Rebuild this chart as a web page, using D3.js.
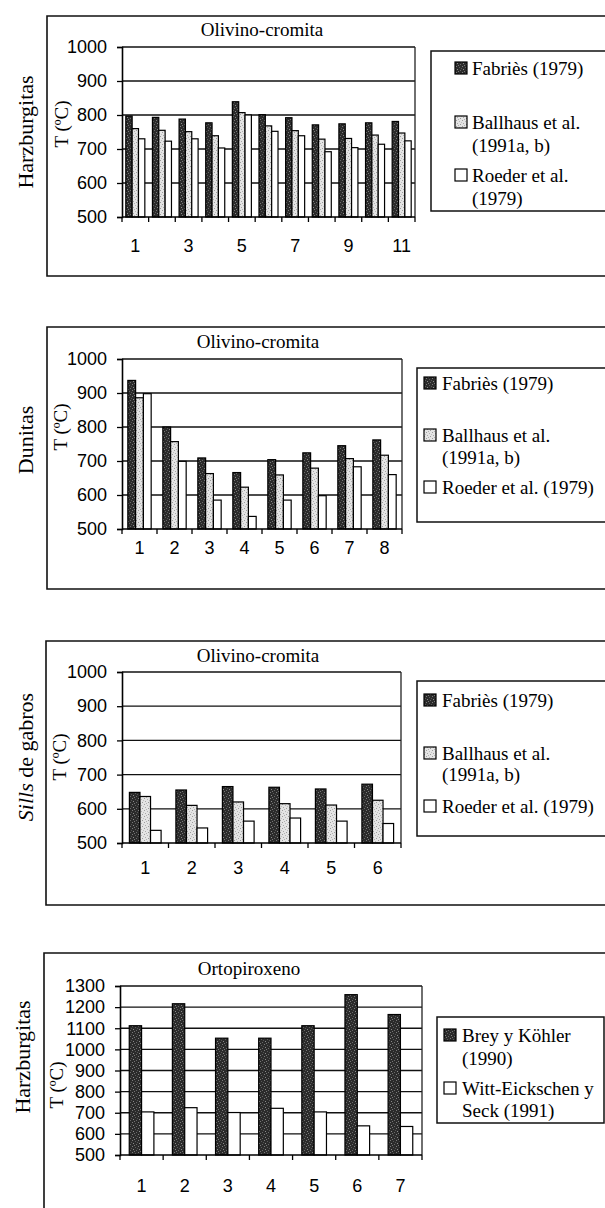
<!DOCTYPE html>
<html><head><meta charset="utf-8">
<script src="https://cdn.jsdelivr.net/npm/d3@7"></script>
<style>
html,body{margin:0;padding:0;background:#fff;}
svg{display:block;}
</style></head>
<body>
<svg id="chart" width="605" height="1208"></svg>
<script>
// ---------- DATA ----------
const hzCategories = [1,2,3,4,5,6,7,8,9,10,11];
const hzFabries   = [797,793,788,777,839,801,792,771,774,777,781];
const hzBallhaus  = [760,755,751,739,807,768,754,729,731,741,747];
const hzRoeder    = [730,723,730,703,800,752,739,692,704,714,724];
const hzTickLabels = ["1","","3","","5","","7","","9","","11"];

const duCategories = [1,2,3,4,5,6,7,8];
const duFabries   = [937,800,709,666,704,724,745,762];
const duBallhaus  = [886,757,663,623,659,679,707,717];
const duRoeder    = [898,699,585,537,585,598,683,660];

const siCategories = [1,2,3,4,5,6];
const siFabries   = [648,655,665,663,658,672];
const siBallhaus  = [636,610,620,615,611,625];
const siRoeder    = [537,544,564,573,564,557];

const opCategories = [1,2,3,4,5,6,7];
const opBrey      = [1112,1216,1053,1053,1112,1259,1165];
const opWitt      = [704,724,701,721,704,638,635];

const olivYTicks = [500,600,700,800,900,1000];
const opYTicks   = [500,600,700,800,900,1000,1100,1200,1300];

// ---------- SETUP ----------
const SERIF = "'Liberation Serif','Times New Roman',Times,serif";
const SANS  = "'Liberation Sans',Arial,Helvetica,sans-serif";
const svg = d3.select("#chart");
const defs = svg.append("defs");

function makePattern(id, base, dots){
  const p = defs.append("pattern").attr("id",id).attr("patternUnits","userSpaceOnUse")
    .attr("width",6).attr("height",6);
  p.append("rect").attr("width",6).attr("height",6).attr("fill",base);
  dots.forEach(d=>p.append("rect").attr("x",d[0]).attr("y",d[1]).attr("width",1).attr("height",1).attr("fill",d[2]));
}
makePattern("patDark","#2b2b2b",[[0,0,"#7a7a7a"],[3,1,"#5a5a5a"],[1,3,"#8a8a8a"],[4,4,"#6a6a6a"],[5,2,"#555"],[2,5,"#777"]]);
makePattern("patLight","#e4e4e4",[[0,0,"#9c9c9c"],[3,1,"#b5b5b5"],[1,3,"#a8a8a8"],[4,4,"#9a9a9a"],[5,2,"#c0c0c0"],[2,5,"#b0b0b0"]]);

const fills = {dark:"url(#patDark)", light:"url(#patLight)", white:"#fff"};

function txt(sel, family, size){
  return sel.attr("font-family",family).style("font-family",family).attr("font-size",size).attr("fill","#000");
}

function panel(cfg){
  const g = svg.append("g");
  const fr = cfg.frame;
  g.append("path")
    .attr("d", `M${fr.right},${fr.top} L${fr.left},${fr.top} L${fr.left},${fr.bottom} L${fr.right},${fr.bottom}`)
    .attr("fill","none").attr("stroke","#111").attr("stroke-width",1.6);

  const x = d3.scaleBand().domain(cfg.categories).range([cfg.L, cfg.R]).paddingInner(0).paddingOuter(0);
  const y = d3.scaleLinear().domain([cfg.ticks[0], cfg.ticks[cfg.ticks.length-1]]).range([cfg.B, cfg.T]);
  const inner = d3.scaleBand().domain(d3.range(cfg.series.length)).range([0, x.bandwidth()])
    .paddingInner(0).paddingOuter(cfg.gap/2);

  // gridlines
  g.append("g").selectAll("line").data(cfg.ticks.slice(1)).join("line")
    .attr("x1",cfg.L).attr("x2",cfg.R).attr("y1",d=>y(d)).attr("y2",d=>y(d))
    .attr("stroke","#111").attr("stroke-width",1.3);
  g.append("line").attr("x1",cfg.R).attr("x2",cfg.R).attr("y1",cfg.T).attr("y2",cfg.B)
    .attr("stroke","#222").attr("stroke-width",1.3);

  // bars
  cfg.series.forEach((s,i)=>{
    g.append("g").selectAll("rect").data(s.values).join("rect")
      .attr("x",(d,j)=>x(cfg.categories[j]) + inner(i))
      .attr("y",d=>y(d))
      .attr("width",inner.bandwidth())
      .attr("height",d=>cfg.B - y(d))
      .attr("fill",fills[s.fill]).attr("stroke","#000").attr("stroke-width",1.2);
  });

  // y axis
  const ya = g.append("g").attr("transform",`translate(${cfg.L},0)`)
    .call(d3.axisLeft(y).tickValues(cfg.ticks).tickSize(5).tickPadding(10).tickFormat(d3.format("d")));
  ya.attr("font-family",null);
  ya.select(".domain").attr("stroke","#000").attr("stroke-width",1.6);
  ya.selectAll(".tick line").attr("stroke","#000").attr("stroke-width",1.3);
  txt(ya.selectAll("text"), SANS, 18);

  // x axis, ticks at category boundaries
  const xa = g.append("g").attr("transform",`translate(0,${cfg.B})`);
  xa.append("line").attr("x1",cfg.L).attr("x2",cfg.R).attr("stroke","#000").attr("stroke-width",1.6);
  const bounds = cfg.categories.map(c=>x(c)).concat([cfg.R]);
  xa.selectAll("line.tk").data(bounds).join("line").attr("class","tk")
    .attr("x1",d=>d).attr("x2",d=>d).attr("y1",0).attr("y2",5).attr("stroke","#000").attr("stroke-width",1.3);
  txt(xa.selectAll("text").data(cfg.categories).join("text"), SANS, 18)
    .attr("x",d=>x(d)+x.bandwidth()/2).attr("y",cfg.xLabelY - cfg.B).attr("dy","0.35em")
    .attr("text-anchor","middle")
    .text((d,i)=> cfg.xLabels ? cfg.xLabels[i] : d);

  // title
  txt(g.append("text"), SERIF, 19).attr("x",cfg.titleX).attr("y",cfg.titleY).attr("dy","0.35em")
    .attr("text-anchor","middle").text(cfg.title);

  // y axis title
  txt(g.append("text"), SERIF, 19)
    .attr("transform",`translate(${cfg.yTitleX},${cfg.yTitleY}) rotate(-90)`)
    .attr("text-anchor","middle").attr("dy","0.35em").text("T (ºC)");

  // rock label
  const rl = txt(g.append("text"), SERIF, 22)
    .attr("transform",`translate(${cfg.rockX},${cfg.rockY}) rotate(-90)`)
    .attr("text-anchor","middle").attr("dy","0.35em");
  cfg.rock.forEach(part=>{
    rl.append("tspan").attr("font-style",part.italic?"italic":"normal").text(part.t);
  });

  // legend
  const lg = cfg.legend;
  g.append("path")
    .attr("d", lg.right ? `M${lg.right},${lg.top} L${lg.left},${lg.top} L${lg.left},${lg.bottom} L${lg.right},${lg.bottom} Z`
                        : `M610,${lg.top} L${lg.left},${lg.top} L${lg.left},${lg.bottom} L610,${lg.bottom}`)
    .attr("fill","none").attr("stroke","#111").attr("stroke-width",1.5);
  lg.items.forEach((it)=>{
    const s = cfg.series[it.series];
    if(it.symbol){
      g.append("rect").attr("x",lg.symX).attr("y",it.y-6).attr("width",12).attr("height",12)
        .attr("fill",fills[s.fill]).attr("stroke","#000").attr("stroke-width",1.2);
    }
    txt(g.append("text"), SERIF, 19).attr("x",lg.textX).attr("y",it.y).attr("dy","0.35em").text(it.text);
  });
}

panel({
  frame:{left:47, top:16, bottom:276, right:610},
  categories:hzCategories, xLabels:hzTickLabels,
  L:122, R:415, T:47, B:217, gap:1.2, ticks:olivYTicks, xLabelY:246,
  series:[{values:hzFabries,fill:"dark"},{values:hzBallhaus,fill:"light"},{values:hzRoeder,fill:"white"}],
  title:"Olivino-cromita", titleX:262, titleY:29,
  yTitleX:61, yTitleY:124, rock:[{t:"Harzburgitas"}], rockX:25, rockY:132,
  legend:{left:431, top:51, bottom:211, symX:455, textX:472, items:[
    {series:0, symbol:true, y:68, text:"Fabriès (1979)"},
    {series:1, symbol:true, y:122, text:"Ballhaus et al."},
    {series:1, symbol:false, y:145, text:"(1991a, b)"},
    {series:2, symbol:true, y:175, text:"Roeder et al."},
    {series:2, symbol:false, y:198, text:"(1979)"}]}
});

panel({
  frame:{left:47, top:327, bottom:589, right:610},
  categories:duCategories,
  L:122, R:402, T:359, B:529, gap:1.5, ticks:olivYTicks, xLabelY:548,
  series:[{values:duFabries,fill:"dark"},{values:duBallhaus,fill:"light"},{values:duRoeder,fill:"white"}],
  title:"Olivino-cromita", titleX:258, titleY:341,
  yTitleX:60, yTitleY:427, rock:[{t:"Dunitas"}], rockX:25, rockY:440,
  legend:{left:417, top:368, bottom:522, symX:424, textX:442, items:[
    {series:0, symbol:true, y:383, text:"Fabriès (1979)"},
    {series:1, symbol:true, y:435, text:"Ballhaus et al."},
    {series:1, symbol:false, y:457, text:"(1991a, b)"},
    {series:2, symbol:true, y:487, text:"Roeder et al. (1979)"}]}
});

panel({
  frame:{left:46, top:641, bottom:905, right:610},
  categories:siCategories,
  L:122, R:401, T:672, B:843, gap:1.4, ticks:olivYTicks, xLabelY:868,
  series:[{values:siFabries,fill:"dark"},{values:siBallhaus,fill:"light"},{values:siRoeder,fill:"white"}],
  title:"Olivino-cromita", titleX:258, titleY:655,
  yTitleX:59, yTitleY:757, rock:[{t:"Sills",italic:true},{t:" de gabros"}], rockX:25, rockY:757,
  legend:{left:417, top:681, bottom:836, symX:424, textX:442, items:[
    {series:0, symbol:true, y:700, text:"Fabriès (1979)"},
    {series:1, symbol:true, y:753, text:"Ballhaus et al."},
    {series:1, symbol:false, y:774, text:"(1991a, b)"},
    {series:2, symbol:true, y:806, text:"Roeder et al. (1979)"}]}
});

panel({
  frame:{left:44, top:953, bottom:1230, right:610},
  categories:opCategories,
  L:120, R:422, T:986, B:1155, gap:1.5, ticks:opYTicks, xLabelY:1186,
  series:[{values:opBrey,fill:"dark"},{values:opWitt,fill:"white"}],
  title:"Ortopiroxeno", titleX:249, titleY:968,
  yTitleX:56, yTitleY:1085, rock:[{t:"Harzburgitas"}], rockX:22, rockY:1057,
  legend:{left:437, right:604, top:1017, bottom:1123, symX:444, textX:462, items:[
    {series:0, symbol:true, y:1035, text:"Brey y Köhler"},
    {series:0, symbol:false, y:1058, text:"(1990)"},
    {series:1, symbol:true, y:1088, text:"Witt-Eickschen y"},
    {series:1, symbol:false, y:1110, text:"Seck (1991)"}]}
});
</script>
</body></html>
